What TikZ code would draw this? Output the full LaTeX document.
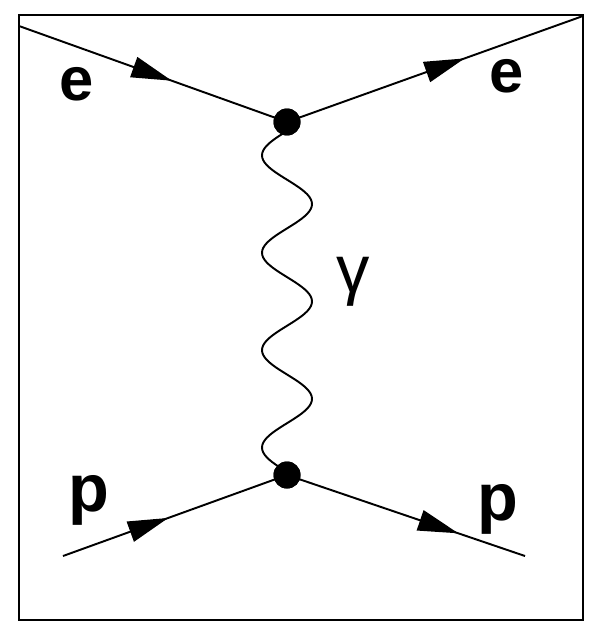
\documentclass[tikz,border=0pt]{standalone}
\usepackage{fontspec}
\setmainfont{Liberation Sans}
\usepackage{tikz}
\usetikzlibrary{arrows.meta,decorations.markings,positioning}

\begin{document}
\begin{tikzpicture}[x=0.02cm, y=-0.02cm,
    fermion/.style={line width=1.1pt, postaction={decorate},
        decoration={markings, mark=at position #1 with {\arrow{Triangle[length=23pt,width=12pt]}}}},
    fermion/.default=0.55,
    photon/.style={line width=1.1pt},
    vertex/.style={circle, fill, inner sep=0pt, minimum size=0.54cm},
    elabel/.style={font=\bfseries\fontsize{35}{35}\selectfont, anchor=base},
    plabel/.style={font=\bfseries\fontsize{38}{38}\selectfont, anchor=base}]
    \useasboundingbox (0,0) rectangle (589,625);
    \draw[line width=1.6pt] (19,15) rectangle (583,620);
    % external legs
    \coordinate (ein) at (19,26);
    \coordinate (eout) at (583,16);
    \coordinate (pin) at (63,556);
    \coordinate (pout) at (525,556);
    \node[vertex] (vtop) at (287,122) {};
    \node[vertex] (vbot) at (287,475) {};
    \draw[fermion=0.57] (ein) -- (vtop.center);
    \draw[fermion=0.6] (vtop.center) -- (eout);
    \draw[fermion=0.47] (pin) -- (vbot.center);
    \draw[fermion=0.72] (vbot.center) -- (pout);
    % exchanged photon, 3.5 waves
    \draw[photon] (vtop.center) -- (287,131)
        -- plot[domain=0:3.5, samples=141] ({287-25*sin(360*\x)}, {131+97.4*\x})
        -- (vbot.center);
    \node[vertex] at (vtop) {};
    \node[vertex] at (vbot) {};
    % labels
    \node[elabel] (elin) at (77,100) {e};
    \node[elabel] (elout) at (507,92) {e};
    \node[plabel] (plin) at (89,511) {p};
    \node[plabel] (plout) at (498,520) {p};
    \node[font=\fontsize{38}{38}\selectfont] (gam) at (353,282) {γ};
\end{tikzpicture}
\end{document}
